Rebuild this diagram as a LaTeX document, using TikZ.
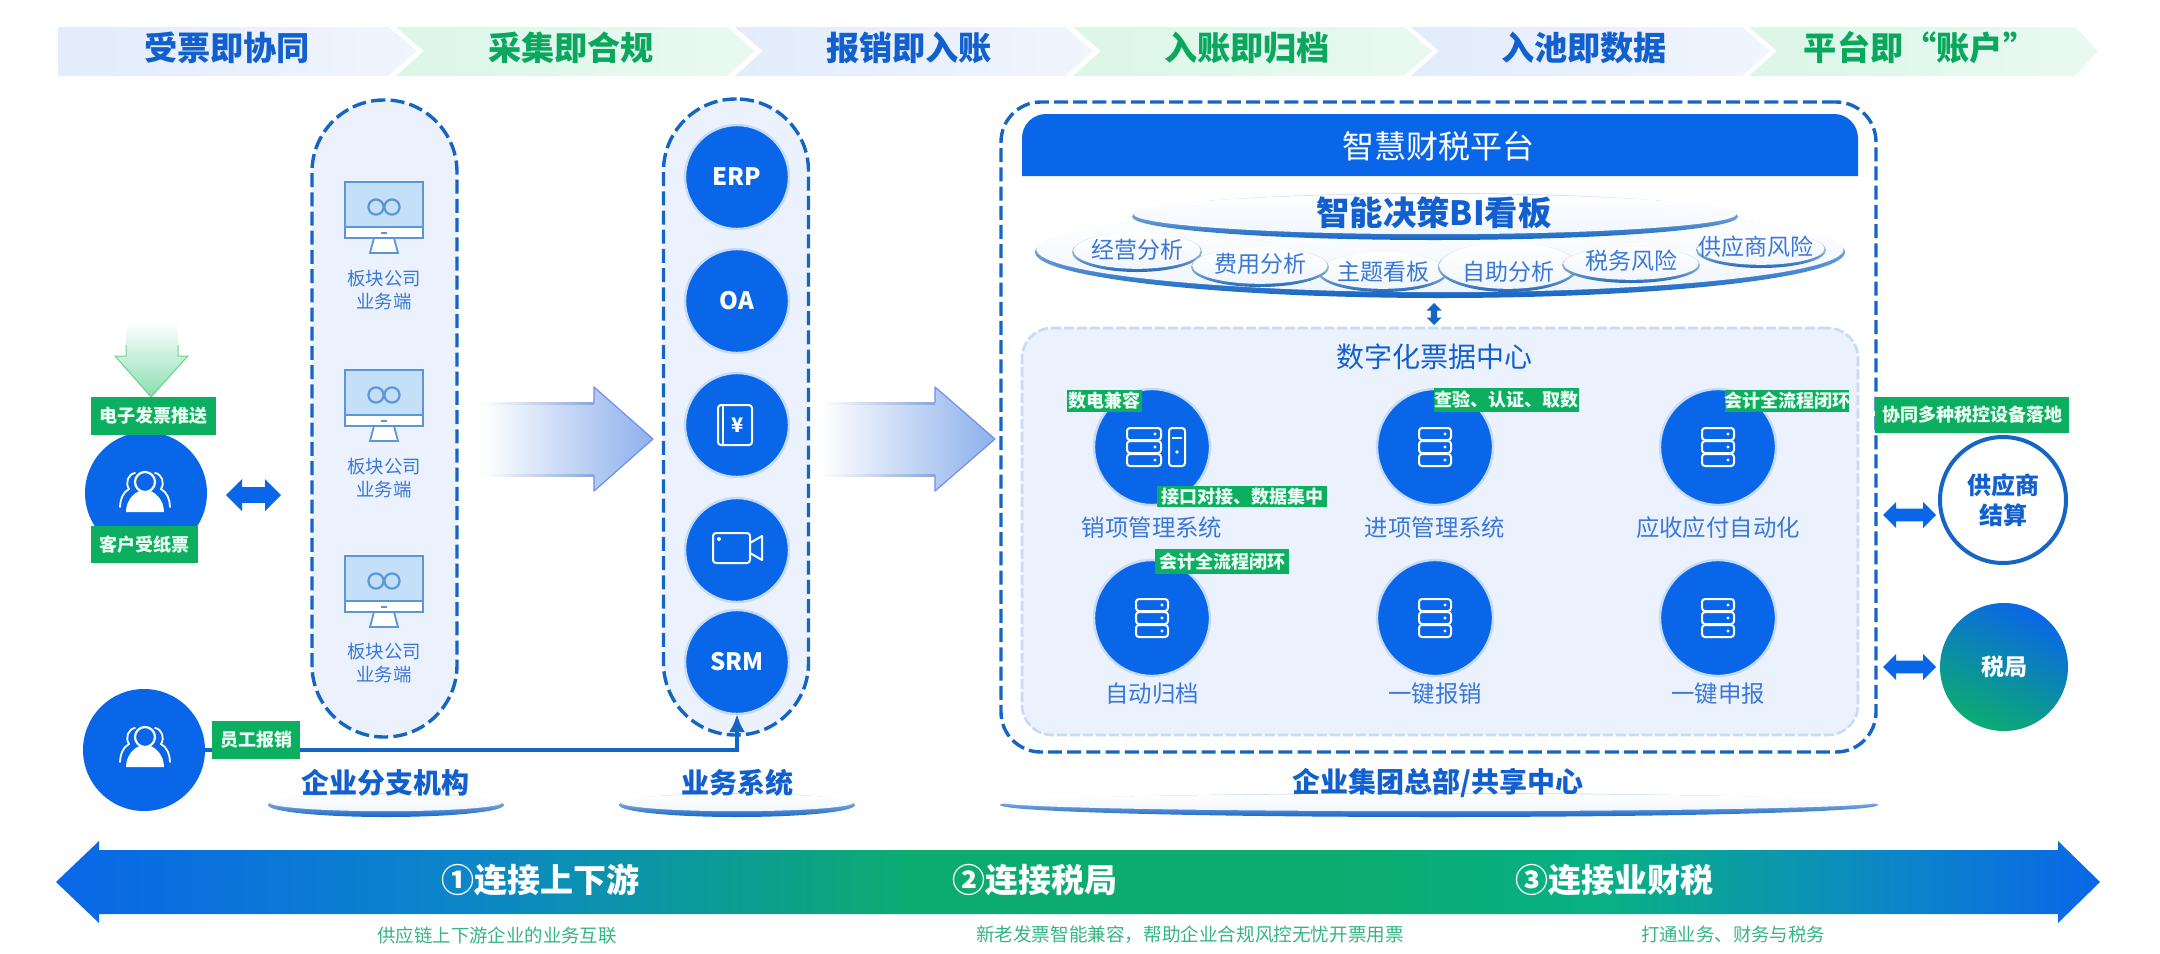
\documentclass[tikz,border=0pt]{standalone}
\usepackage{fontspec}
\setmainfont{Noto Sans CJK SC}
\usetikzlibrary{shapes.geometric,shapes.arrows,arrows.meta,calc}
\definecolor{bmain}{HTML}{0A66E8}
\definecolor{bdash}{HTML}{1565C4}
\definecolor{btext}{HTML}{1260CF}
\definecolor{blite}{HTML}{3A78D8}
\definecolor{gtext}{HTML}{0AA85F}
\definecolor{gtag}{HTML}{0CAF60}
\definecolor{panel}{HTML}{EBF2FD}
\definecolor{chevb}{HTML}{E2ECFB}
\definecolor{chevbb}{HTML}{F1F5FD}
\definecolor{chevg}{HTML}{DCF6E8}
\definecolor{chevgg}{HTML}{E9F9F2}
\definecolor{capt}{HTML}{35B583}
\definecolor{monl}{HTML}{5C96DA}
\definecolor{mons}{HTML}{C4E0F8}
\definecolor{halo}{HTML}{C6DBF8}
\definecolor{barA}{HTML}{0A66E8}
\definecolor{barB}{HTML}{0C86C8}
\definecolor{barC}{HTML}{0CAC70}
\definecolor{barD}{HTML}{09B085}
\definecolor{tagt}{HTML}{EDFFF4}
\definecolor{rimt}{HTML}{C9D9F2}
\pgfdeclarehorizontalshading{barshade}{100bp}{color(0bp)=(barA);color(25bp)=(barA);color(35bp)=(barB);color(46bp)=(barC);color(56bp)=(barC);color(63bp)=(barD);color(70bp)=(barB);color(75bp)=(barA);color(100bp)=(barA)}
\newcommand{\fs}[1]{\fontsize{#1pt}{#1pt}\selectfont}
\tikzset{
  x=0.5pt,y=-0.5pt,
  lab/.style={inner sep=0pt,outer sep=0pt,align=center},
  tagbox/.style={fill=gtag,inner sep=0pt,outer sep=0pt,text=tagt,font=\fs{9}\bfseries},
  dashbox/.style={draw=bdash,line width=1.7pt,dash pattern=on 7pt off 2.6pt,inner sep=0pt,outer sep=0pt},
  disc/.style={circle,fill=bmain,draw=halo,line width=1.2pt,inner sep=0pt,outer sep=0pt,text=white},
  darrow/.style={double arrow,fill=bmain,inner sep=3.2pt,outer sep=0pt,double arrow head extend=3.5pt,shape border rotate=0},
  ic/.style={draw=white,line width=1pt},
}
% name x1 y1 x2 y2 text
\newcommand{\tagn}[6]{\node[tagbox,minimum width={(#4-#2)*0.5pt},minimum height={(#5-#3)*0.5pt}] (#1) at ({(#2+#4)/2},{(#3+#5)/2}) {\makebox[0pt][c]{#6}};}
% plate cx cy rx ry rim-colour inset(shift up) top-rim colour
\newcommand{\plate}[7]{%
  \shade[top color=#7,bottom color=#5] (#1,#2) ellipse [x radius=#3*0.5pt,y radius=#4*0.5pt];
  \shade[top color=white,bottom color=bmain!6!white] (#1,#2-#6) ellipse [x radius=(#3-1.5)*0.5pt,y radius=(#4-#6-0.8)*0.5pt];}
\newcommand{\person}[2]{\begin{scope}[shift={(#1,#2)}]
  \fill[white] (-19,17) .. controls (-19,5) and (-10,-5) .. (0,-5) .. controls (10,-5) and (19,5) .. (19,17) -- cycle;
  \draw[white,line width=1.1pt,fill=bmain] (0,-13) circle [radius=5pt];
  \draw[white,line width=.9pt,line cap=round] (-10,-22) .. controls (-17,-21) and (-20,-12) .. (-16,-6) .. controls (-22,-3) and (-25,5) .. (-25,12);
  \draw[white,line width=.9pt,line cap=round] (10,-22) .. controls (17,-21) and (20,-12) .. (16,-6) .. controls (22,-3) and (25,5) .. (25,12);
\end{scope}}
\newcommand{\serverrows}[3]{\begin{scope}[shift={(#1,#2)}]
  \foreach \dy in {-13,0,13}{
    \draw[ic,rounded corners=1.5pt] (-#3,\dy-6) rectangle (#3,\dy+6);
    \fill[white] (#3-6,\dy) circle [radius=.8pt];}
\end{scope}}
\newcommand{\monitor}[2]{\begin{scope}[shift={(#1,#2)}]
  \draw[monl,line width=.9pt,fill=white] (-10,56) -- (-14,71) -- (14,71) -- (10,56);
  \draw[monl,line width=.9pt,fill=mons] (-39,0) rectangle (39,45);
  \draw[monl,line width=.9pt,fill=white] (-39,45) rectangle (39,56);
  \fill[monl] (-3,49.5) rectangle (3,52);
  \draw[monl,line width=1.1pt] (-8,25) circle [radius=3.8pt];
  \draw[monl,line width=1.1pt] (8,25) circle [radius=3.8pt];
\end{scope}}
\newcommand{\bigarrow}[5]{% x0 base tip cy colour
  \shade[left color=white,right color=#5] (#1,#4-36) -- (#2,#4-36) -- (#2,#4-52) -- (#3,#4) -- (#2,#4+52) -- (#2,#4+36) -- (#1,#4+36) -- cycle;
  \draw[#5!80!blue,line width=.6pt,line join=round] (#2,#4-36) -- (#2,#4-52) -- (#3,#4) -- (#2,#4+52) -- (#2,#4+36);
  \shade[left color=white,right color=#5!80!gray] (#1,#4-37) rectangle (#2,#4-35);
  \shade[left color=white,right color=#5!80!gray] (#1,#4+35) rectangle (#2,#4+37);}
\definecolor{arb}{HTML}{8DB0EC}
\definecolor{arg}{HTML}{8ADDB2}
\begin{document}
\begin{tikzpicture}
\useasboundingbox (0,0) rectangle (2160,954);
\fill[white] (0,0) rectangle (2160,954);

% ---- top chevrons
\shade[left color=chevb,right color=chevbb] (58,27) -- (388,27) -- (417,51) -- (388,76) -- (58,76) -- cycle;
\foreach \xa/\xb/\ca/\cb in {396/727/chevg/chevgg,735/1065/chevb/chevbb,1073/1404/chevg/chevgg,1411/1742/chevb/chevbb}{
  \shade[left color=\ca,right color=\cb] (\xa,27) -- (\xb,27) -- ({\xb+28},51) -- (\xb,76) -- (\xa,76) -- ({\xa+28},51) -- cycle;}
\shade[left color=chevg,right color=chevgg] (1749,27) -- (2075,27) -- (2098,51) -- (2075,76) -- (1749,76) -- (1777,51) -- cycle;
\node[lab,text=btext,font=\fs{16.6}\bfseries] (h1) at (227,48) {受票即协同};
\node[lab,text=gtext,font=\fs{16.6}\bfseries] (h2) at (571,48) {采集即合规};
\node[lab,text=btext,font=\fs{16.6}\bfseries] (h3) at (909,48) {报销即入账};
\node[lab,text=gtext,font=\fs{16.6}\bfseries] (h4) at (1247,48) {入账即归档};
\node[lab,text=btext,font=\fs{16.6}\bfseries] (h5) at (1584,48) {入池即数据};
\node[lab,text=gtext,font=\fs{16.6}\bfseries] (h6) at (1920,48) {平台即“账户”};

% ---- capsules
\node[dashbox,fill=panel,rounded corners=36pt,minimum width=72.5pt,minimum height=318.5pt] (capA) at (384.5,418.5) {};
\node[dashbox,fill=panel,rounded corners=36pt,minimum width=72.5pt,minimum height=318pt] (capB) at (736,417) {};

% ---- monitors
\monitor{384}{182}
\monitor{384}{370}
\monitor{384}{556}
\foreach \n/\yy in {a/279,b/467,c/652}{
  \node[lab,text=blite,font=\fs{9.2}] (bk\n) at (384,\yy) {板块公司};
  \node[lab,text=blite,font=\fs{9.2}] (yw\n) at (384,\yy+23) {业务端};}

% ---- system discs
\node[disc,minimum size=52pt,font=\fs{12}\bfseries] (erp) at (737,177) {ERP};
\node[disc,minimum size=52pt,font=\fs{12}\bfseries] (oa) at (737,301) {OA};
\node[disc,minimum size=52pt] (book) at (737,425) {};
\node[disc,minimum size=52pt] (cam) at (737,550) {};
\node[disc,minimum size=52pt,font=\fs{12}\bfseries] (srm) at (737,662) {SRM};
\draw[ic,rounded corners=1.5pt] (718,405) rectangle (752,445);
\draw[ic] (723,406) -- (723,444);
\node[lab,text=white,font=\fs{10}\bfseries] (yen) at (738,425) {¥};
\draw[ic,rounded corners=1.5pt] (713,533) rectangle (750,563);
\draw[ic,line join=round,fill=bmain] (750,543) -- (762,536) -- (762,560) -- (750,553) -- cycle;
\fill[white] (719,539) circle [radius=1pt];

% ---- big arrows
\bigarrow{482}{594}{653}{439}{arb}
\bigarrow{820}{935}{995}{439}{arb}

% ---- customer side
\shade[top color=white,bottom color=arg] (126,322) -- (178,322) -- (178,356) -- (188,356) -- (151,397) -- (115,356) -- (126,356) -- cycle;
\draw[arg!75!black!60!green,line width=.5pt,opacity=.7] (126,345) -- (126,356) -- (115,356) -- (151,397) -- (188,356) -- (178,356) -- (178,345);
\node[circle,fill=bmain,inner sep=0pt,minimum size=61pt,outer sep=0pt] (cust) at (146,493) {};
\person{145}{495}
\tagn{tagA}{91}{397}{216}{435}{电子发票推送}
\tagn{tagB}{91}{526}{198}{563}{客户受纸票}
\node[darrow,minimum height=27.5pt,minimum width=16pt] (dbl1) at (253.5,495) {};

% ---- employee
\node[circle,fill=bmain,inner sep=0pt,minimum size=61pt,outer sep=0pt] (emp) at (144,750) {};
\person{145}{750}
\draw[bdash,line width=1.8pt,-{Latex[length=9pt,width=8pt]}] (emp.east) -| (srm.south);
\tagn{tagC}{212}{721}{300}{759}{员工报销}

% ---- lower plates
\plate{386}{805}{118}{12}{bdash}{2.5}{rimt}
\plate{737}{805}{118}{12}{bdash}{2.5}{rimt}
\plate{1439}{805}{439}{12}{bdash}{2.5}{rimt}
\node[lab,text=btext,font=\fs{14}\bfseries] (l1) at (385,783) {企业分支机构};
\node[lab,text=btext,font=\fs{14}\bfseries] (l2) at (737,783) {业务系统};
\node[lab,text=btext,font=\fs{14}\bfseries] (l3) at (1438,783) {企业集团总部/共享中心};

% ---- platform
\node[dashbox,rounded corners=20pt,minimum width=437.5pt,minimum height=325pt] (hq) at (1438.5,427) {};
\fill[bmain] (1022,176) [rounded corners=12pt] -- (1022,114) -- (1858,114) [sharp corners] -- (1858,176) -- cycle;
\node[lab,text=white,font=\fs{16}] (title) at (1438,146) {智慧财税平台};

% ---- BI
\plate{1440}{252}{405}{46}{bdash}{2.5}{rimt}
\plate{1137}{252}{65}{20}{bdash!85!gray}{1.2}{white}
\plate{1761}{250}{65}{18}{bdash!85!gray}{1.2}{white}
\plate{1383}{272}{65}{20}{bdash!85!gray}{1.2}{white}
\plate{1508}{267}{70}{25}{bdash!85!gray}{1.2}{white}
\plate{1260}{267}{69}{20}{bdash!85!gray}{1.2}{white}
\plate{1631}{265}{69}{18}{bdash!85!gray}{1.2}{white}
\plate{1435}{216.5}{303}{23.5}{bdash}{2.5}{rimt}
\node[lab,text=btext,font=\fs{16.7}\bfseries] (bi) at (1434,213) {智能决策BI看板};
\node[lab,text=blite,font=\fs{11.5}] (s1) at (1137,250) {经营分析};
\node[lab,text=blite,font=\fs{11.5}] (s2) at (1260,264) {费用分析};
\node[lab,text=blite,font=\fs{11.5}] (s3) at (1383,272) {主题看板};
\node[lab,text=blite,font=\fs{11.5}] (s4) at (1508,272) {自助分析};
\node[lab,text=blite,font=\fs{11.5}] (s5) at (1631,261) {税务风险};
\node[lab,text=blite,font=\fs{11.5}] (s6) at (1756,247) {供应商风险};
\node[darrow,minimum height=11pt,minimum width=7.5pt,inner sep=1.3pt,double arrow head extend=2pt,rotate=90,fill=bdash] (dbl2) at (1434,314) {};

% ---- ticket centre
\node[rounded corners=15pt,fill=panel,draw=halo,line width=1.3pt,dash pattern=on 5pt off 1.5pt,inner sep=0pt,minimum width=418pt,minimum height=203.5pt] (center) at (1440,531.5) {};
\node[lab,text=btext,font=\fs{14}] (ctitle) at (1434,357) {数字化票据中心};
\foreach \nm/\cx/\cy in {d1/1152/447,d2/1435/447,d3/1718/447,d4/1152/618,d5/1435/618,d6/1718/618}{
  \node[disc,minimum size=58pt] (\nm) at (\cx,\cy) {};}
\serverrows{1144}{447}{17}
\draw[ic,rounded corners=1.5pt] (1169,428) rectangle (1185,466);
\fill[white] (1177,452) circle [radius=.9pt];
\draw[white,line width=.6pt] (1172,438) -- (1182,438);
\serverrows{1435}{447}{16}
\serverrows{1718}{447}{16}
\serverrows{1152}{618}{16}
\serverrows{1435}{618}{16}
\serverrows{1718}{618}{16}
\node[lab,text=blite,font=\fs{11.7}] (t1) at (1152,528) {销项管理系统};
\node[lab,text=blite,font=\fs{11.7}] (t2) at (1435,528) {进项管理系统};
\node[lab,text=blite,font=\fs{11.7}] (t3) at (1718,528) {应收应付自动化};
\node[lab,text=blite,font=\fs{11.7}] (t4) at (1152,694) {自动归档};
\node[lab,text=blite,font=\fs{11.7}] (t5) at (1435,694) {一键报销};
\node[lab,text=blite,font=\fs{11.7}] (t6) at (1718,694) {一键申报};
\tagn{g1}{1067}{390}{1142}{412}{数电兼容}
\tagn{g2}{1434}{388}{1579}{412}{查验、认证、取数}
\tagn{g3}{1725}{390}{1849}{412}{会计全流程闭环}
\tagn{g4}{1157}{486}{1327}{507}{接口对接、数据集中}
\tagn{g5}{1155}{549}{1289}{574}{会计全流程闭环}

% ---- right side
\tagn{g6}{1875}{397}{2069}{433}{协同多种税控设备落地}
\node[circle,draw=bdash,line width=2pt,fill=white,minimum size=63pt,inner sep=0pt,outer sep=0pt,font=\fs{12}\bfseries,text=btext,align=center] (sup) at (2003,500) {供应商\\[3pt]结算};
\node[circle,top color=bmain,bottom color=barC,shading angle=-25,minimum size=64pt,inner sep=0pt,outer sep=0pt,font=\fs{11.5}\bfseries,text=white] (tax) at (2004,667) {税局};
\node[darrow,minimum height=26.5pt,minimum width=13pt,inner sep=2.6pt,double arrow head extend=3pt] (dbl3) at (1909.5,515) {};
\node[darrow,minimum height=26.5pt,minimum width=13pt,inner sep=2.6pt,double arrow head extend=3pt] (dbl4) at (1909.5,667) {};

% ---- bottom bar
\path[shading=barshade] (56,882) -- (99,841) -- (99,850) -- (2058,850) -- (2058,841) -- (2100,882) -- (2058,923) -- (2058,914) -- (99,914) -- (99,923) -- cycle;
\node[lab,text=white,font=\fs{16.5}\bfseries] (b1) at (540,880) {①连接上下游};
\node[lab,text=white,font=\fs{16.5}\bfseries] (b2) at (1035,880) {②连接税局};
\node[lab,text=white,font=\fs{16.5}\bfseries] (b3) at (1614,880) {③连接业财税};
\node[lab,text=capt,font=\fs{9.2}] (c1) at (497,935) {供应链上下游企业的业务互联};
\node[lab,text=capt,font=\fs{9.3}] (c2) at (1190,935) {新老发票智能兼容，帮助企业合规风控无忧开票用票};
\node[lab,text=capt,font=\fs{9.2}] (c3) at (1733,935) {打通业务、财务与税务};
\end{tikzpicture}
\end{document}
